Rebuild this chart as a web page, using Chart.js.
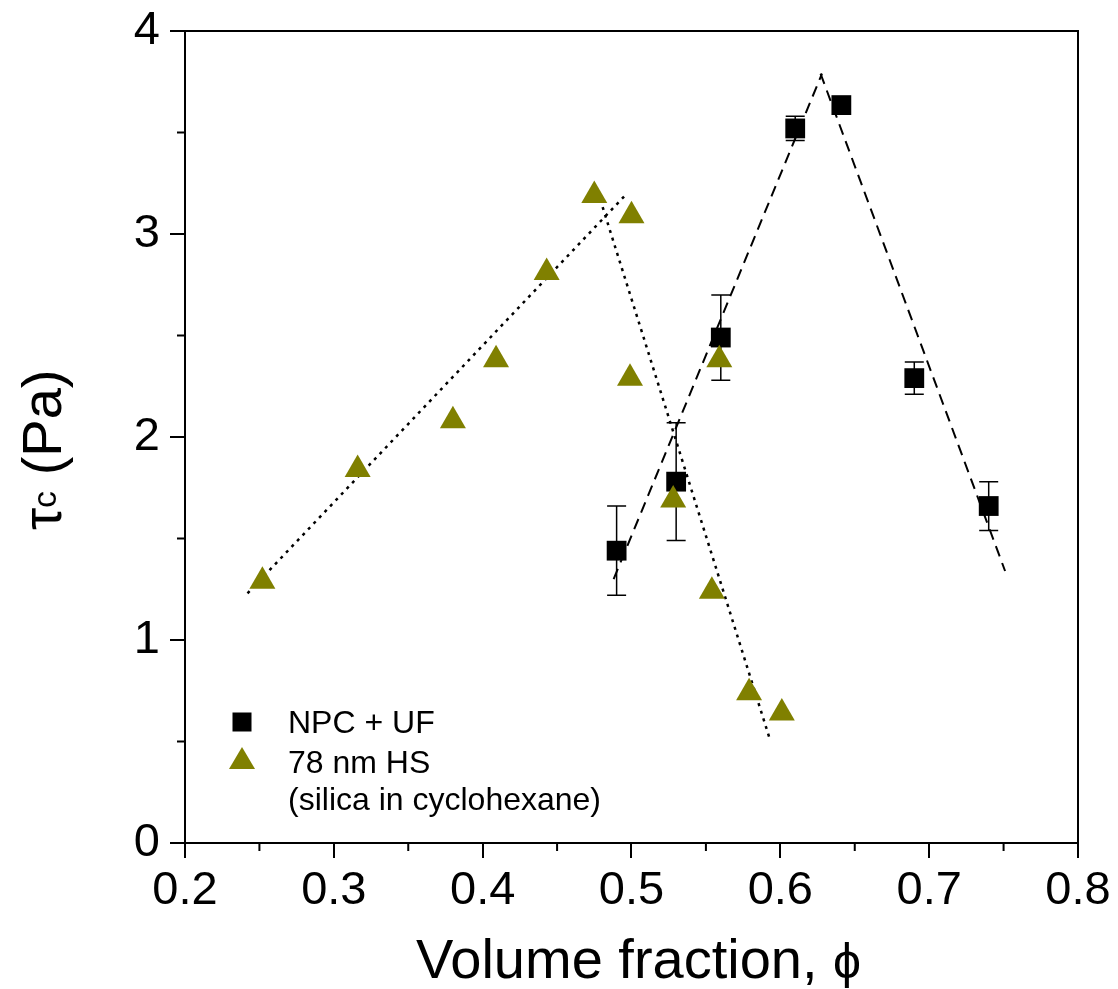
<!DOCTYPE html>
<html>
<head>
<meta charset="utf-8">
<script src="https://cdn.jsdelivr.net/npm/chart.js@4.4.1/dist/chart.umd.min.js"></script>
<style>
  body { margin: 0; background: #fff; }
  #wrap { width: 1118px; height: 989px; }
</style>
</head>
<body>
<div id="wrap"><canvas id="tauChart"></canvas></div>
<script>
// NPC + UF (squares) with error bars
const npcPhi = [0.49, 0.53, 0.56, 0.61, 0.641, 0.69, 0.74];
const npcTau = [1.44, 1.78, 2.49, 3.52, 3.635, 2.29, 1.66];
const npcErr = [0.22, 0.29, 0.21, 0.06, 0, 0.08, 0.12];

// 78 nm HS (triangles)
const hsPhi = [0.252, 0.316, 0.380, 0.409, 0.443, 0.475, 0.500, 0.499, 0.528, 0.559, 0.554, 0.579, 0.601];
const hsTau = [1.29, 1.84, 2.08, 2.38, 2.81, 3.19, 3.09, 2.29, 1.69, 2.38, 1.24, 0.74, 0.64];

// guide lines (end points)
const hsLineUp = [[0.242, 1.23], [0.497, 3.20]];
const hsLineDown = [[0.479, 3.17], [0.593, 0.51]];
const npcLineUp = [[0.488, 1.30], [0.628, 3.79]];
const npcLineDown = [[0.627, 3.79], [0.751, 1.34]];

const xTicks = [0.2, 0.3, 0.4, 0.5, 0.6, 0.7, 0.8];
const yTicks = [0, 1, 2, 3, 4];
const xMinor = [0.25, 0.35, 0.45, 0.55, 0.65, 0.75];
const yMinor = [0.5, 1.5, 2.5, 3.5];

const olive = "#808000";
const FONT = "'Liberation Sans', Arial, sans-serif";

const toPts = arr => arr.map(p => ({ x: p[0], y: p[1] }));

const lineSet = (pts, dash, width) => ({
  type: "line",
  data: toPts(pts),
  borderColor: "#000",
  borderWidth: width,
  borderDash: dash,
  pointRadius: 0,
  fill: false,
  order: 3
});

// frame, minor ticks, error bars, legend, axis titles
const extras = {
  id: "extras",
  beforeDatasetsDraw(chart) {
    const { ctx, scales: { x, y } } = chart;
    ctx.save();
    ctx.strokeStyle = "#000";
    ctx.lineWidth = 1.5;
    npcPhi.forEach((phi, i) => {
      if (!npcErr[i]) return;
      const px = x.getPixelForValue(phi);
      const top = y.getPixelForValue(npcTau[i] + npcErr[i]);
      const bot = y.getPixelForValue(npcTau[i] - npcErr[i]);
      ctx.beginPath();
      ctx.moveTo(px, top); ctx.lineTo(px, bot);
      ctx.moveTo(px - 9.5, top); ctx.lineTo(px + 9.5, top);
      ctx.moveTo(px - 9.5, bot); ctx.lineTo(px + 9.5, bot);
      ctx.stroke();
    });
    ctx.restore();
  },
  afterDraw(chart) {
    const { ctx, chartArea: a, scales: { x, y } } = chart;
    ctx.save();
    ctx.strokeStyle = "#000";
    ctx.lineWidth = 2;
    ctx.strokeRect(a.left, a.top, a.right - a.left, a.bottom - a.top);

    ctx.beginPath();
    xMinor.forEach(v => {
      const px = x.getPixelForValue(v);
      ctx.moveTo(px, a.bottom); ctx.lineTo(px, a.bottom + 8);
    });
    yMinor.forEach(v => {
      const py = y.getPixelForValue(v);
      ctx.moveTo(a.left, py); ctx.lineTo(a.left - 8, py);
    });
    ctx.stroke();

    // legend
    const lx = 242;
    ctx.fillStyle = "#000";
    ctx.fillRect(lx - 9.5, 722 - 9.5, 19, 19);
    ctx.fillStyle = olive;
    ctx.beginPath();
    ctx.moveTo(lx, 747);
    ctx.lineTo(lx + 13, 769);
    ctx.lineTo(lx - 13, 769);
    ctx.closePath();
    ctx.fill();

    ctx.fillStyle = "#000";
    ctx.font = "32px " + FONT;
    ctx.textAlign = "left";
    ctx.textBaseline = "alphabetic";
    ctx.fillText("NPC + UF", 288, 733);
    ctx.fillText("78 nm HS", 288, 773);
    ctx.fillText("(silica in cyclohexane)", 288, 810);

    // x title
    ctx.font = "56px " + FONT;
    const xt = "Volume fraction, ";
    const w1 = ctx.measureText(xt).width;
    ctx.fillText(xt, 416, 978);
    ctx.font = "50px " + FONT;
    ctx.fillText("\u03d5", 416 + w1, 978);

    // y title, rotated
    ctx.translate(61, 530);
    ctx.rotate(-Math.PI / 2);
    ctx.font = "56px " + FONT;
    ctx.fillText("\u03c4", 0, 0);
    let off = ctx.measureText("\u03c4").width;
    ctx.font = "34px " + FONT;
    ctx.fillText("c", off, -5);
    off += ctx.measureText("c").width;
    ctx.font = "56px " + FONT;
    ctx.fillText(" (Pa)", off, 0);
    ctx.restore();
  }
};

new Chart(document.getElementById("tauChart"), {
  type: "scatter",
  data: {
    datasets: [
      {
        label: "78 nm HS",
        data: hsPhi.map((v, i) => ({ x: v, y: hsTau[i] })),
        pointStyle: "triangle",
        pointRadius: 15,
        backgroundColor: olive,
        borderColor: olive,
        borderWidth: 0,
        order: 0
      },
      {
        label: "NPC + UF",
        data: npcPhi.map((v, i) => ({ x: v, y: npcTau[i] })),
        pointStyle: "rect",
        pointRadius: 14,
        backgroundColor: "#000",
        borderColor: "#000",
        borderWidth: 0,
        order: 1
      },
      lineSet(hsLineUp, [3, 5], 2.5),
      lineSet(hsLineDown, [3, 5], 2.5),
      lineSet(npcLineUp, [11, 7], 2),
      lineSet(npcLineDown, [11, 7], 2)
    ]
  },
  options: {
    responsive: true,
    maintainAspectRatio: false,
    animation: false,
    events: [],
    layout: { padding: { top: 31, right: 40, left: 0, bottom: 0 } },
    plugins: {
      legend: { display: false },
      tooltip: { enabled: false }
    },
    scales: {
      x: {
        type: "linear",
        min: 0.2,
        max: 0.8,
        afterBuildTicks: s => { s.ticks = xTicks.map(v => ({ value: v })); },
        afterFit: s => { s.height = 146; },
        border: { display: false },
        grid: { drawOnChartArea: false, color: "#000", lineWidth: 2, tickLength: 15 },
        ticks: {
          color: "#000",
          font: { family: FONT, size: 47 },
          padding: 5,
          maxRotation: 0,
          callback: v => v.toFixed(1)
        }
      },
      y: {
        type: "linear",
        min: 0,
        max: 4,
        afterBuildTicks: s => { s.ticks = yTicks.map(v => ({ value: v })); },
        afterFit: s => { s.width = 185; },
        border: { display: false },
        grid: { drawOnChartArea: false, color: "#000", lineWidth: 2, tickLength: 15 },
        ticks: {
          color: "#000",
          font: { family: FONT, size: 47, lineHeight: 0.8 },
          padding: 10,
          callback: v => String(v)
        }
      }
    }
  },
  plugins: [extras]
});
</script>
</body>
</html>
